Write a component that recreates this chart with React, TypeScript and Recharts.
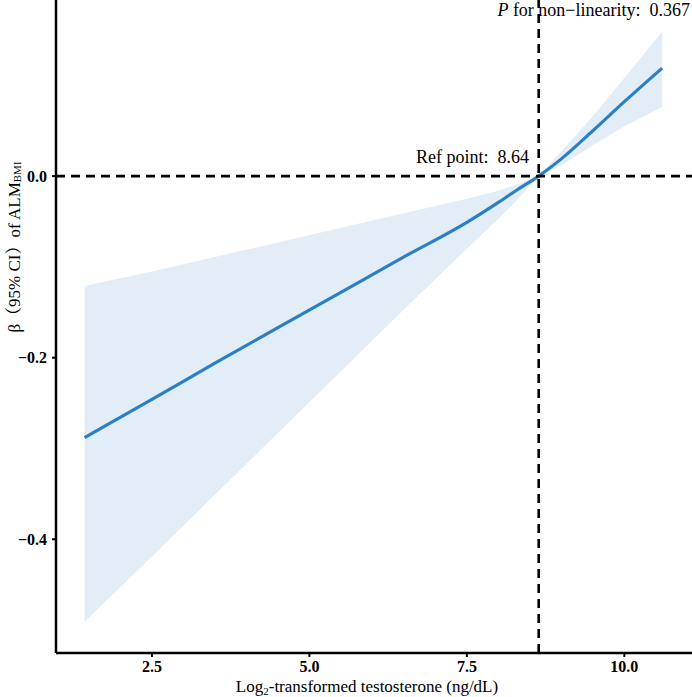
import React from "react";
import {
  ComposedChart,
  Area,
  Line,
  XAxis,
  YAxis,
  ReferenceLine,
} from "recharts";

// Log2-transformed testosterone (ng/dL)
const xValues = [1.43, 2.5, 3.5, 4.5, 5.5, 6.5, 7.5, 8.0, 8.3, 8.64, 9.0, 9.5, 10.0, 10.6];
// beta estimate
const betaValues = [-0.288, -0.246, -0.206, -0.167, -0.128, -0.089, -0.051, -0.029, -0.015, 0, 0.019, 0.05, 0.082, 0.119];
// 95% CI
const lowerValues = [-0.491, -0.419, -0.351, -0.283, -0.215, -0.147, -0.08, -0.047, -0.026, 0, 0.012, 0.034, 0.055, 0.076];
const upperValues = [-0.121, -0.105, -0.089, -0.073, -0.057, -0.041, -0.025, -0.016, -0.009, 0, 0.027, 0.066, 0.108, 0.159];

const xTicks = [2.5, 5.0, 7.5, 10.0];
const yTicks = [-0.4, -0.2, 0.0];
const refPoint = 8.64;
const pNonLinearity = "0.367";

const data = xValues.map((x, i) => ({
  x,
  beta: betaValues[i],
  ci: [lowerValues[i], upperValues[i]],
}));

const FONT = "'Liberation Serif', 'Times New Roman', serif";
const W = 692;
const H = 697;

const fmt = (v: number) => {
  const s = Math.abs(v).toFixed(1);
  return v < 0 ? "\u2212" + s : s;
};

export default function App() {
  return (
    <div style={{ position: "absolute", left: 0, top: 0, width: W, height: H, background: "#fff" }}>
      <ComposedChart
        width={W}
        height={H}
        data={data}
        margin={{ top: 0, right: 0, bottom: 0, left: 0 }}
      >
        <XAxis
          dataKey="x"
          type="number"
          domain={[0.977, 11.074]}
          ticks={xTicks}
          allowDataOverflow
          height={44}
          tickFormatter={fmt}
          axisLine={{ stroke: "#000", strokeWidth: 2.5 }}
          tickLine={{ stroke: "#000", strokeWidth: 2 }}
          tickSize={4}
          tickMargin={4}
          tick={{ fill: "#000", fontFamily: FONT, fontSize: 16, fontWeight: "bold" }}
        />
        <YAxis
          type="number"
          domain={[-0.5253, 0.194]}
          ticks={yTicks}
          allowDataOverflow
          width={56}
          tickFormatter={fmt}
          axisLine={{ stroke: "#000", strokeWidth: 2.5 }}
          tickLine={{ stroke: "#000", strokeWidth: 2 }}
          tickSize={4}
          tickMargin={5}
          tick={{ fill: "#000", fontFamily: FONT, fontSize: 16, fontWeight: "bold" }}
        />
        <Area
          dataKey="ci"
          type="linear"
          stroke="none"
          fill="#e2edf7"
          fillOpacity={1}
          isAnimationActive={false}
          activeDot={false}
          dot={false}
        />
        <Line
          dataKey="beta"
          type="monotone"
          stroke="#2b80c5"
          strokeWidth={3.2}
          dot={false}
          activeDot={false}
          isAnimationActive={false}
        />
        <ReferenceLine y={0} stroke="#000" strokeWidth={2.6} strokeDasharray="9 6" />
        <ReferenceLine x={refPoint} stroke="#000" strokeWidth={2.6} strokeDasharray="9 6" />
      </ComposedChart>
      <svg
        width={W}
        height={H}
        style={{ position: "absolute", left: 0, top: 0, pointerEvents: "none" }}
      >
        <text
          x={690}
          y={16}
          textAnchor="end"
          fontFamily={FONT}
          fontSize={18}
          fill="#000"
          style={{ whiteSpace: "pre" }}
        >
          <tspan fontStyle="italic">P</tspan>
          <tspan>{" for non\u2212linearity:  " + pNonLinearity}</tspan>
        </text>
        <text
          x={529}
          y={163}
          textAnchor="end"
          fontFamily={FONT}
          fontSize={18}
          fill="#000"
          style={{ whiteSpace: "pre" }}
        >
          {"Ref point:  " + refPoint.toFixed(2)}
        </text>
        <text
          x={367}
          y={692}
          textAnchor="middle"
          fontFamily={FONT}
          fontSize={17}
          fill="#000"
        >
          Log<tspan fontSize={11} dy={3}>2</tspan>
          <tspan dy={-3}>-transformed testosterone (ng/dL)</tspan>
        </text>
        <text
          x={19.5}
          y={247}
          textAnchor="middle"
          fontFamily={FONT + ", 'Noto Sans CJK SC'"}
          fontSize={17}
          fill="#000"
          transform="rotate(-90, 19.5, 247)"
        >
          β<tspan fontFamily="'Noto Serif CJK SC', 'Noto Sans CJK SC'">（</tspan>95% CI<tspan fontFamily="'Noto Serif CJK SC', 'Noto Sans CJK SC'">）</tspan>of ALM
          <tspan fontSize={11} dy={1}>BMI</tspan>
        </text>
      </svg>
    </div>
  );
}
